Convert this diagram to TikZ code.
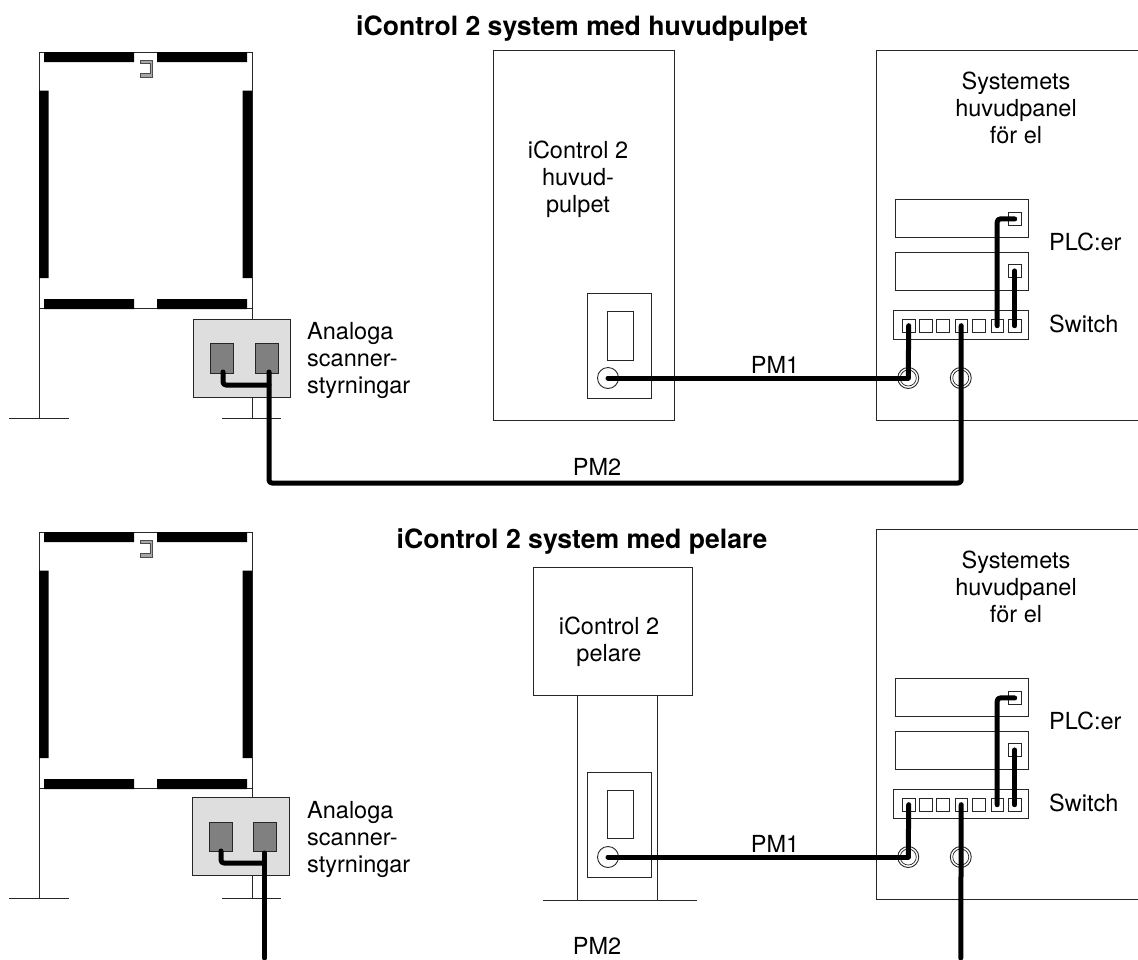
\documentclass[tikz,border=0pt]{standalone}
\usepackage{fontspec}
\setmainfont{TeX Gyre Heros}
\tikzset{
 thin line/.style={draw=black!85,line width=0.9pt},
 bar/.style={fill=black,draw=none},
 cable/.style={draw=black,line width=5pt,line cap=round,line join=round,rounded corners=3pt},
 lbl/.style={font=\fontsize{23.5}{27}\selectfont,align=center,inner sep=0pt,text=black},
 ttl/.style={font=\bfseries\fontsize{26.6}{30}\selectfont,inner sep=0pt},
 boxn/.style={draw=black!85,line width=0.9pt,inner sep=0pt,fill=white},
}
\newcommand{\rectnode}[6][]{\node[boxn,#1,anchor=north west,minimum width={((#4)-(#2))*1pt},minimum height={((#5)-(#3))*1pt}] (#6) at (#2,#3) {};}
\newcommand{\frameunit}[1]{%
 \begin{scope}[yshift=-#1pt]
  \draw[thin line] (39,52) -- (252,52);
  \draw[thin line] (39,52) -- (39,418) (252,52) -- (252,418);
  \draw[thin line] (39,308.5) -- (252,308.5);
  \draw[thin line] (9,418) -- (69,418) (222,418) -- (281,418);
  \fill[bar] (44,52) rectangle (134,62) (157,52) rectangle (247,62);
  \fill[bar] (39,90.5) rectangle (48.5,278) (242.5,90.5) rectangle (252,278);
  \fill[bar] (44,299) rectangle (134,309) (157,299) rectangle (247,309);
  \draw[black!70,fill=black!35,line width=.6pt] (140.5,60.5) -- (152.5,60.5) -- (152.5,77.5) -- (140.5,77.5) -- (140.5,73.5) -- (149.8,73.5) -- (149.8,63.2) -- (140.5,63.2) -- cycle;
 \end{scope}}
\newcommand{\panelunit}[2]{%
 \rectnode{876}{50+#1}{1137.5}{420+#1}{#2panel}
 \rectnode{894.5}{198.5+#1}{1028}{236.5+#1}{#2plca}
 \rectnode{894.5}{252+#1}{1028}{290+#1}{#2plcb}
 \rectnode{893}{310+#1}{1028}{339+#1}{#2sw}
 \rectnode{902}{319+#1}{914.5}{331.5+#1}{#2pa}
 \rectnode{919}{319+#1}{931.5}{331.5+#1}{#2pb}
 \rectnode{936}{319+#1}{948.5}{331.5+#1}{#2pc}
 \rectnode{954.5}{319+#1}{967}{331.5+#1}{#2pd}
 \rectnode{972}{319+#1}{984.5}{331.5+#1}{#2pe}
 \rectnode{990.5}{319+#1}{1003}{331.5+#1}{#2pf}
 \rectnode{1008}{319+#1}{1020.5}{331.5+#1}{#2pg}
 \rectnode{1008}{212+#1}{1020.5}{225+#1}{#2qa}
 \rectnode{1008}{264+#1}{1020.5}{277+#1}{#2qb}
 \node[circle,boxn,minimum size=21pt] (#2ca) at (908.25,378+#1) {};
 \node[circle,draw=black!85,line width=.7pt,minimum size=16pt,inner sep=0pt] (#2cai) at (908.25,378+#1) {};
 \node[circle,boxn,minimum size=21pt] (#2cb) at (960.75,378+#1) {};
 \node[circle,draw=black!85,line width=.7pt,minimum size=16pt,inner sep=0pt] (#2cbi) at (960.75,378+#1) {};
 \node[lbl] (#2t1) at (1016,107.5+#1) {Systemets\\huvudpanel\\för el};
 \node[lbl,anchor=base west] (#2t2) at (1049,250+#1) {PLC:er};
 \node[lbl,anchor=base west] (#2t3) at (1049,332+#1) {Switch};
 \draw[cable] (#2pf.center) -- (#2pf.center |- #2qa.center) -- (#2qa.center);
 \draw[cable] (#2qb.center) -- (#2pg.center);
 \draw[cable] (#2pa.center) -- (#2ca.center);
}
\begin{document}
\begin{tikzpicture}[x=1pt,y=-1pt]
 \useasboundingbox (0,0) rectangle (1138,959);
 \fill[white] (0,0) rectangle (1138,959);
 \frameunit{0}
 \frameunit{480}
 \panelunit{0}{a}
 \panelunit{479}{b}
 % console
 \rectnode{493}{50}{674}{420}{desk}
 \rectnode{587}{293}{651}{398}{deskin}
 \rectnode{607}{311}{633}{360}{deskdisp}
 \node[circle,boxn,minimum size=21pt] (deskc) at (608,378) {};
 \node[lbl] (desktxt) at (578,179) {iControl 2\\huvud-\\pulpet};
 % pillar
 \rectnode{577}{694}{656.5}{900}{pil}
 \rectnode{533}{567}{692}{695}{pilbox}
 \coordinate (footl) at (543,900);
 \coordinate (footr) at (697,900);
 \draw[thin line] (footl) -- (footr);
 \rectnode{587}{772}{651}{877}{pilin}
 \rectnode{607}{790}{633}{838}{pildisp}
 \node[circle,boxn,minimum size=21pt] (pilc) at (608,857) {};
 \node[lbl] (piltxt) at (609,642) {iControl 2\\pelare};
 % gray boxes
 \rectnode[fill=black!13]{192.5}{318.5}{290}{397}{ga}
 \rectnode[fill=black!50]{210}{343}{233}{372.5}{gaa}
 \rectnode[fill=black!50]{254.5}{343}{277.5}{372.5}{gab}
 \rectnode[fill=black!13]{191.5}{796.5}{289}{875}{gb}
 \rectnode[fill=black!50]{208.5}{821.5}{232}{851}{gba}
 \rectnode[fill=black!50]{253}{821.5}{276}{851}{gbb}
 \node[lbl,align=left,anchor=west] (ta) at (307,360) {Analoga\\scanner-\\styrningar};
 \node[lbl,align=left,anchor=west] (tb) at (307,839) {Analoga\\scanner-\\styrningar};
 % cables
 \coordinate (e1) at (269,372);
 \coordinate (e2) at (223,372);
 \draw[cable] (e2) -- (223,385) -- (269,385);
 \draw[cable] (e1) -- (269,483) -- (apd.center |- 0,483) -- (apd.center);
 \draw[cable] (deskc.center) -- (aca.center);
 \coordinate (f1) at (264.5,853);
 \coordinate (f2) at (221,851);
 \coordinate (f3) at (264.5,958);
 \draw[cable] (f2) -- (221,863) -- (264.5,863);
 \draw[cable] (f1) -- (f3);
 \draw[cable] (pilc.center) -- (bca.center);
 \coordinate (f4) at (960.75,958);
 \draw[cable] (bpd.center) -- (f4);
 \node[lbl] (pm1a) at (775,365) {PM1};
 \node[lbl] (pm2a) at (597,467) {PM2};
 \node[lbl] (pm1b) at (775,844) {PM1};
 \node[lbl] (pm2b) at (597,946) {PM2};
 \node[ttl] (t1) at (582,29) {iControl 2 system med huvudpulpet};
 \node[ttl] (t2) at (582,541) {iControl 2 system med pelare};
\end{tikzpicture}
\end{document}
